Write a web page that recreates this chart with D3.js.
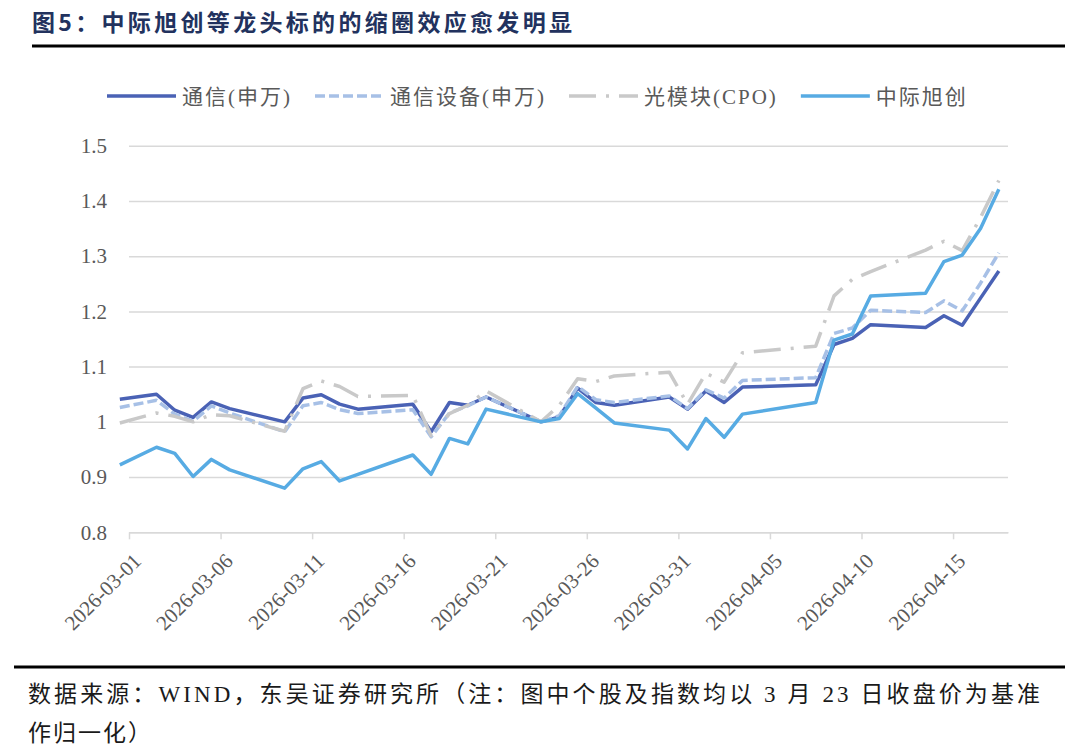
<!DOCTYPE html>
<html>
<head>
<meta charset="utf-8">
<script src="https://cdn.jsdelivr.net/npm/d3@7"></script>
<style>
  body { margin: 0; background: #fff; }
  svg { display: block; background: #fff; }
</style>
</head>
<body>
<svg id="line-chart"></svg>
<script>
// trading days, the first one is the base point that sits on the left edge
let dates = ['2026-02-28', '2026-03-02', '2026-03-03', '2026-03-04', '2026-03-05', '2026-03-06',
  '2026-03-09', '2026-03-10', '2026-03-11', '2026-03-12', '2026-03-13',
  '2026-03-16', '2026-03-17', '2026-03-18', '2026-03-19', '2026-03-20',
  '2026-03-23', '2026-03-24', '2026-03-25', '2026-03-26', '2026-03-27',
  '2026-03-30', '2026-03-31', '2026-04-01', '2026-04-02', '2026-04-03',
  '2026-04-07', '2026-04-08', '2026-04-09', '2026-04-10',
  '2026-04-13', '2026-04-14', '2026-04-15', '2026-04-16', '2026-04-17'];

// normalised close (3/23 = 1)
let tongxin = [1.041, 1.050, 1.021, 1.008, 1.036, 1.024, 1.000, 1.043, 1.049, 1.032, 1.023,
  1.032, 0.982, 1.035, 1.030, 1.045, 1.000, 1.009, 1.061, 1.035, 1.030,
  1.045, 1.023, 1.056, 1.035, 1.063, 1.067, 1.140, 1.151, 1.176,
  1.171, 1.192, 1.175, 1.224, 1.273];

let shebei = [1.026, 1.039, 1.014, 1.001, 1.029, 1.016, 0.982, 1.029, 1.035, 1.022, 1.015,
  1.022, 0.973, 1.016, 1.029, 1.045, 1.000, 1.011, 1.064, 1.040, 1.035,
  1.047, 1.024, 1.058, 1.043, 1.075, 1.080, 1.160, 1.170, 1.202,
  1.198, 1.219, 1.201, 1.251, 1.306];

let cpo = [0.998, 1.016, 1.010, 1.000, 1.013, 1.011, 0.983, 1.060, 1.074, 1.064, 1.046,
  1.048, 0.975, 1.015, 1.030, 1.056, 1.000, 1.030, 1.078, 1.073, 1.083,
  1.090, 1.032, 1.088, 1.072, 1.125, 1.137, 1.228, 1.258, 1.272,
  1.311, 1.327, 1.310, 1.370, 1.437];

let zhongji = [0.922, 0.954, 0.943, 0.901, 0.932, 0.913, 0.880, 0.915, 0.928, 0.893, 0.905,
  0.940, 0.905, 0.970, 0.960, 1.023, 1.000, 1.006, 1.051, 1.025, 0.998,
  0.985, 0.951, 1.006, 0.972, 1.014, 1.035, 1.148, 1.159, 1.228,
  1.233, 1.290, 1.302, 1.350, 1.421];

let seriesNames = ['通信(申万)', '通信设备(申万)', '光模块(CPO)', '中际旭创'];

let xTickLabels = ['2026-03-01', '2026-03-06', '2026-03-11', '2026-03-16', '2026-03-21',
  '2026-03-26', '2026-03-31', '2026-04-05', '2026-04-10', '2026-04-15'];
let yTickLabels = [0.8, 0.9, 1, 1.1, 1.2, 1.3, 1.4, 1.5];

let titleText = '图5：中际旭创等龙头标的的缩圈效应愈发明显';
let noteLine1 = '数据来源：WIND，东吴证券研究所（注：图中个股及指数均以 3 月 23 日收盘价为基准';
let noteLine2 = '作归一化）';

// line look for each series, same order as seriesNames
let seriesStyle = [
  { color: '#4a62b5', dash: null },
  { color: '#a7c0e6', dash: '10,4' },
  { color: '#c9c9c9', dash: '27,10,3,10' },
  { color: '#57abe3', dash: null }
];

let config = { 'svg': {}, 'plot': {} };
config.svg.width = 1080;
config.svg.height = 754;
config.plot.x = 129;
config.plot.y = 145.7;
config.plot.width = 879;
config.plot.height = 386.6;

let latin = '"Liberation Serif", "Noto Sans CJK SC", serif';

let svg = d3.select('body').select('#line-chart');
svg.attr('width', config.svg.width);
svg.attr('height', config.svg.height);

let parseDay = d3.timeParse('%Y-%m-%d');

// date axis, every day is one band and points sit in the middle of it
let xScale = d3.scaleTime()
  .domain([parseDay('2026-03-01'), parseDay('2026-04-18')])
  .range([0, config.plot.width]);

function dayCenter(s) {
  return xScale(d3.timeHour.offset(parseDay(s), 12));
}

let yScale = d3.scaleLinear()
  .domain([0.8, 1.5])
  .range([config.plot.height, 0]);

// title and the rules
svg.append('text')
  .attr('x', 32)
  .attr('y', 31)
  .attr('font-family', '"Noto Sans CJK SC", sans-serif')
  .attr('font-size', 23)
  .attr('font-weight', 'bold')
  .attr('fill', '#22325e')
  .attr('textLength', 540)
  .attr('lengthAdjust', 'spacing')
  .text(titleText);

svg.append('line')
  .attr('x1', 32).attr('x2', 1065)
  .attr('y1', 46).attr('y2', 46)
  .attr('stroke', '#000').attr('stroke-width', 3);

svg.append('line')
  .attr('x1', 14).attr('x2', 1065)
  .attr('y1', 667).attr('y2', 667)
  .attr('stroke', '#000').attr('stroke-width', 3);

// footer note, first line is justified to the full width
svg.append('text')
  .attr('x', 28)
  .attr('y', 702)
  .attr('font-family', latin)
  .attr('font-size', 23)
  .attr('fill', '#1a1a1a')
  .attr('textLength', 1012)
  .attr('lengthAdjust', 'spacing')
  .text(noteLine1);

svg.append('text')
  .attr('x', 28)
  .attr('y', 741)
  .attr('font-family', latin)
  .attr('font-size', 23)
  .attr('fill', '#1a1a1a')
  .attr('letter-spacing', 2)
  .text(noteLine2);

let plot = svg.append('g').attr('id', 'plot');
plot.attr('transform', translate(config.plot.x, config.plot.y));

// grid lines + y labels
let yAxis = d3.axisLeft(yScale)
  .tickValues(yTickLabels)
  .tickFormat(d3.format('~g'))
  .tickSize(-config.plot.width)
  .tickPadding(22);

let yGroup = plot.append('g').attr('id', 'y-axis').call(yAxis);
yGroup.select('.domain').remove();
yGroup.selectAll('line').attr('stroke', '#d9d9d9').attr('stroke-width', 1.5);
yGroup.selectAll('text')
  .attr('font-family', latin)
  .attr('font-size', 21)
  .attr('fill', '#595959');

// x axis with rotated dates
let xAxis = d3.axisBottom(xScale)
  .tickValues(xTickLabels.map(parseDay))
  .tickFormat(d3.timeFormat('%Y-%m-%d'))
  .tickSizeInner(7)
  .tickSizeOuter(0);

let xGroup = plot.append('g').attr('id', 'x-axis')
  .attr('transform', translate(0, config.plot.height))
  .call(xAxis);
xGroup.select('.domain').attr('stroke', '#d9d9d9').attr('stroke-width', 1.5);
xGroup.selectAll('line').attr('stroke', '#d9d9d9').attr('stroke-width', 1.5);
xGroup.selectAll('text')
  .attr('x', 0)
  .attr('y', 0)
  .attr('dy', null)
  .attr('text-anchor', 'end')
  .attr('transform', 'translate(13,30) rotate(-45)')
  .attr('font-family', latin)
  .attr('font-size', 21)
  .attr('fill', '#595959');

// the four lines
let allSeries = [tongxin, shebei, cpo, zhongji];

let line = d3.line()
  .x((d, i) => dayCenter(dates[i]))
  .y(d => yScale(d));

allSeries.forEach(function(values, k) {
  plot.append('path')
    .datum(values)
    .attr('fill', 'none')
    .attr('stroke', seriesStyle[k].color)
    .attr('stroke-width', 3.5)
    .attr('stroke-linejoin', 'round')
    .attr('stroke-dasharray', seriesStyle[k].dash)
    .attr('d', line);
});

// legend, laid out left to right from measured text widths
let legend = svg.append('g').attr('id', 'legend');
let lx = 107;
let ly = 96;
seriesNames.forEach(function(name, k) {
  legend.append('line')
    .attr('x1', lx).attr('x2', lx + 69)
    .attr('y1', ly).attr('y2', ly)
    .attr('stroke', seriesStyle[k].color)
    .attr('stroke-width', 3.5)
    .attr('stroke-dasharray', seriesStyle[k].dash);

  let t = legend.append('text')
    .attr('x', lx + 75)
    .attr('y', ly)
    .attr('dy', '0.36em')
    .attr('font-family', latin)
    .attr('font-size', 21)
    .attr('letter-spacing', 2)
    .attr('fill', '#595959')
    .text(name);

  lx = lx + 75 + t.node().getComputedTextLength() + 23;
});

// helper method to make translating easier
function translate(x, y) {
  return 'translate(' + x + ',' + y + ')';
}
</script>
</body>
</html>
